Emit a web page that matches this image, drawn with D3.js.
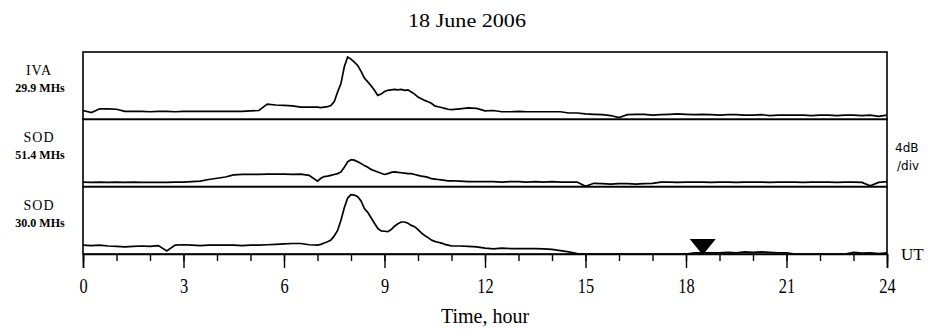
<!DOCTYPE html>
<html><head><meta charset="utf-8">
<script src="https://cdn.jsdelivr.net/npm/d3@7"></script>
<style>
body{margin:0;background:#fff;}
svg{display:block;}
</style></head>
<body>
<svg id="chart" width="933" height="330"></svg>
<script>
const title = "18 June 2006";
const xLabel = "Time, hour";
const stations = ["IVA", "SOD", "SOD"];
const freqs = ["29.9 MHs", "51.4 MHs", "30.0 MHs"];
const scaleNote = ["4dB", "/div"];
const utLabel = "UT";
const majorTicks = [0, 3, 6, 9, 12, 15, 18, 21, 24];
const minorTicks = [0,1,2,3,4,5,6,7,8,9,10,11,12,13,14,15,16,17,18,19,20,21,22,23,24];
const markerHour = [18.5];

const hours = [0,0.25,0.5,0.75,1,1.25,1.5,1.75,2,2.25,2.5,2.75,3,3.25,3.5,3.75,4,4.25,4.5,4.75,5,5.25,5.5,5.75,6,6.25,6.5,6.75,
7,7.1,7.2,7.3,7.4,7.5,7.6,7.7,7.8,7.9,8,8.1,8.2,8.3,8.4,8.5,8.6,8.7,8.8,8.9,9,9.1,9.2,9.3,9.4,9.5,9.6,9.7,9.8,9.9,10,10.1,10.2,10.3,10.4,10.5,10.6,10.7,10.8,10.9,
11,11.25,11.5,11.75,12,12.25,12.5,12.75,13,13.25,13.5,13.75,14,14.25,14.5,14.75,15,15.25,15.5,15.75,16,16.25,16.5,16.75,17,17.25,17.5,17.75,18,18.25,18.5,18.75,19,19.25,19.5,19.75,20,20.25,20.5,20.75,21,21.25,21.5,21.75,22,22.25,22.5,22.75,23,23.25,23.5,23.75,24];

// dB above panel floor
const iva299 = [2.1,1.6,2.5,2.5,2.4,1.9,1.9,1.9,1.8,1.9,1.9,1.8,1.9,1.9,1.9,1.9,1.9,1.9,1.9,1.9,2.0,2.1,3.6,3.4,3.3,3.2,2.9,2.9,
2.9,2.8,2.9,3.0,3.3,4.2,6.5,8.5,12.5,14.8,14.3,13.6,12.8,11.4,9.8,8.9,8.0,6.9,5.7,6.0,6.6,6.9,7.0,7.1,7.0,7.1,6.9,7.0,6.5,6.0,5.3,4.9,4.5,4.2,3.8,3.2,3.0,2.8,2.6,2.4,
2.3,2.5,2.7,2.6,2.0,2.1,1.8,1.8,1.9,1.8,1.8,1.8,1.8,1.8,1.5,1.5,1.3,1.2,1.1,0.9,0.4,1.1,1.2,1.2,1.0,1.1,1.2,1.3,1.2,1.1,1.2,1.1,1.0,1.1,1.1,1.0,1.0,1.1,0.9,1.0,1.0,1.0,1.0,0.9,1.0,1.0,0.9,1.0,1.0,0.9,1.0,0.7,1.0];

const sod514 = [1.1,1.0,1.1,1.0,1.1,1.0,1.1,1.0,1.0,1.0,1.0,1.1,1.1,1.2,1.3,1.7,2.0,2.3,2.8,2.9,2.9,2.9,3.0,3.0,3.0,2.9,3.0,2.7,
1.3,2.0,2.4,2.5,2.7,2.9,3.1,3.5,4.6,5.9,6.4,6.3,5.9,5.5,5.0,4.6,4.1,3.8,3.5,3.2,2.9,3.1,3.4,3.5,3.4,3.3,3.2,3.1,3.1,2.9,2.7,2.5,2.4,2.2,1.9,1.8,1.7,1.6,1.5,1.4,
1.4,1.3,1.2,1.2,1.2,1.2,1.1,1.2,1.2,1.1,1.2,1.1,1.2,1.1,1.1,1.1,0.1,0.8,0.7,0.6,0.7,0.7,0.6,0.7,0.8,1.1,1.1,1.0,1.1,1.1,1.1,1.0,1.1,1.1,1.0,1.1,1.1,1.1,1.0,1.1,1.1,1.1,1.0,1.1,1.1,1.1,1.0,1.1,1.1,1.0,0.2,1.0,1.2];

const sod300 = [2.1,2.0,2.1,1.9,1.8,1.7,1.8,1.9,1.8,2.0,0.7,2.1,2.2,2.1,2.0,2.1,2.1,2.1,2.1,2.0,2.1,2.1,2.2,2.3,2.4,2.5,2.5,2.2,
2.1,2.3,2.6,2.9,3.3,4.3,5.6,8.0,11.0,13.3,14.1,14.0,13.6,12.6,10.8,9.9,8.6,7.3,6.1,5.5,5.4,5.3,5.8,6.6,7.2,7.6,7.6,7.3,6.8,6.5,5.8,5.0,4.4,3.9,3.3,3.0,2.8,2.6,2.3,2.1,
1.9,1.9,1.8,1.7,1.4,1.2,1.4,1.3,1.3,1.3,1.3,1.2,1.1,0.8,0.5,0.1,0,0,0,0,0,0,0,0,0,0,0,0,0,0.3,0.3,0.3,0.3,0.4,0.3,0.5,0.4,0.5,0.4,0.3,0.3,0,0,0,0,0,0,0,0.4,0.2,0.3,0.1,0.3];

const series = [iva299, sod514, sod300];

(function () {
const svg = d3.select("#chart");
const pLeft = 83, pRight = 887, pTop = 52, pBottom = 254;
const x = d3.scaleLinear().domain([0, 24]).range([pLeft, pRight]);
const band = d3.scaleBand().domain([0,1,2]).range([pTop, pBottom]).padding(0);
const serif = "'Liberation Serif', 'Times New Roman', serif";

svg.append("text").attr("x", 467).attr("y", 27).attr("text-anchor", "middle")
  .attr("font-family", serif).attr("font-size", 19)
  .attr("textLength", 118).attr("lengthAdjust", "spacingAndGlyphs").text(title);

series.forEach((vals, i) => {
  const y0 = band(i), y1 = band(i) + band.bandwidth();
  const y = d3.scaleLinear().domain([0, 16]).range([y1, y0]);
  const g = svg.append("g");
  g.append("rect").attr("x", pLeft).attr("y", y0).attr("width", pRight - pLeft).attr("height", y1 - y0)
    .attr("fill", "none").attr("stroke", "#000").attr("stroke-width", 1.6);
  const line = d3.line().x((d, k) => x(hours[k])).y(d => y(d));
  g.append("path").datum(vals).attr("d", line).attr("fill", "none")
    .attr("stroke", "#000").attr("stroke-width", 1.7);
  svg.append("text").attr("x", 39).attr("y", y0 + 23).attr("text-anchor", "middle")
    .attr("font-family", serif).attr("font-size", 14)
    .attr("letter-spacing", 1).text(stations[i]);
  svg.append("text").attr("x", 40).attr("y", y0 + 40).attr("text-anchor", "middle")
    .attr("font-family", serif).attr("font-size", 12)
    .attr("font-weight", "bold").text(freqs[i]);
});

svg.append("text").attr("x", 895).attr("y", 152).attr("font-family", "'DejaVu Sans', sans-serif")
  .attr("font-size", 12).text(scaleNote[0]);
svg.append("text").attr("x", 897).attr("y", 170).attr("font-family", "'DejaVu Sans', sans-serif")
  .attr("font-size", 12).text(scaleNote[1]);
svg.append("text").attr("x", 901).attr("y", 260).attr("font-family", serif)
  .attr("font-size", 17).text(utLabel);

const minorAxis = d3.axisBottom(x).tickValues(minorTicks).tickSize(7).tickFormat("");
const majorAxis = d3.axisBottom(x).tickValues(majorTicks).tickSize(14).tickFormat(d3.format("d"));
const gMinor = svg.append("g").attr("transform", `translate(0,${pBottom})`).call(minorAxis);
gMinor.select(".domain").remove();
const gMajor = svg.append("g").attr("transform", `translate(0,${pBottom})`).call(majorAxis);
gMajor.select(".domain").attr("stroke-width", 1.6);
svg.selectAll(".tick line").attr("stroke", "#000").attr("stroke-width", 1.4);
gMajor.selectAll(".tick text")
  .attr("y", 39).attr("dy", 0).attr("fill", "#000")
  .attr("font-family", serif).attr("font-size", 21)
  .attr("transform", "scale(0.78,1)");

svg.append("text").attr("x", 485).attr("y", 323).attr("text-anchor", "middle")
  .attr("font-family", serif).attr("font-size", 20).text(xLabel);

// inverted triangle marker (shape in px, placed by the x scale)
const triShape = d3.line()([[-13, -15], [13, -15], [0, 1]]) + "Z";
svg.selectAll(".marker").data(markerHour).enter().append("path")
  .attr("class", "marker").attr("d", triShape)
  .attr("transform", d => `translate(${x(d)},${pBottom})`)
  .attr("fill", "#000");
})();
</script>
</body></html>
